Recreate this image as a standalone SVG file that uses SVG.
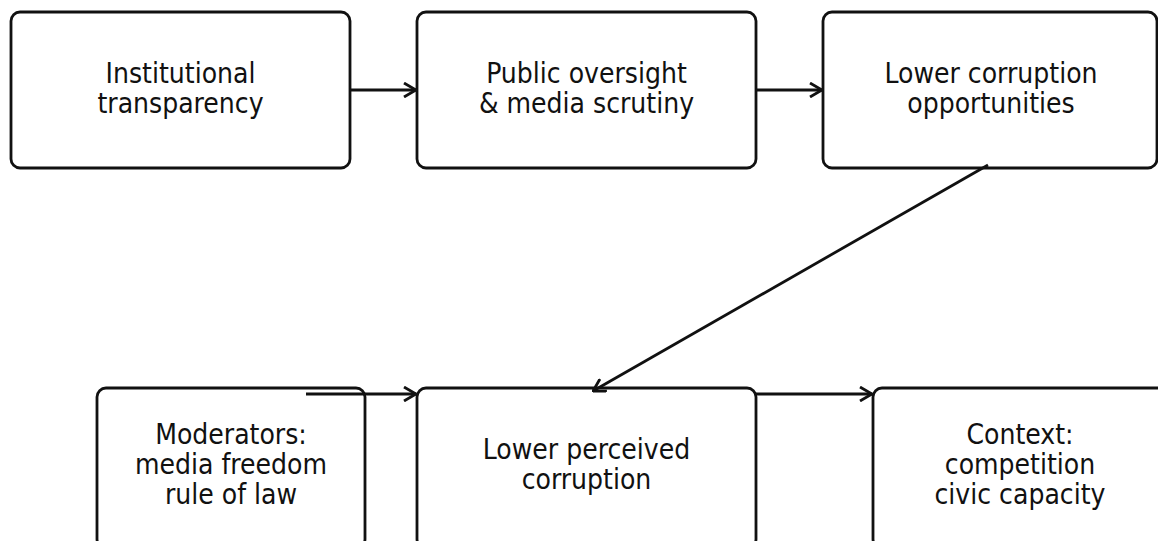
<svg xmlns="http://www.w3.org/2000/svg" width="1158" height="541" viewBox="0 0 1158 541">
<defs>
<style>
.box{fill:#fff;stroke:#111;stroke-width:2.8}
.t{font-family:"DejaVu Sans Condensed","DejaVu Sans",sans-serif;font-stretch:condensed;font-size:28px;fill:#111;text-anchor:middle}
.c{stroke:#111;stroke-width:2.8;fill:none}
</style>
<marker id="ah" viewBox="0 0 14 16" refX="13" refY="8" markerWidth="14" markerHeight="16" markerUnits="userSpaceOnUse" orient="auto">
<path d="M1,1 L13,8 L1,15" fill="none" stroke="#111" stroke-width="2.8"/>
</marker>
</defs>
<rect width="1158" height="541" fill="#fff"/>
<g id="n1"><rect class="box" x="11" y="12" width="339" height="156" rx="9"/>
<text class="t" x="180.5" y="82.5">Institutional</text><text class="t" x="180.5" y="112.5">transparency</text></g>
<g id="n2"><rect class="box" x="417" y="12" width="339" height="156" rx="9"/>
<text class="t" x="586.5" y="82.5">Public oversight</text><text class="t" x="586.5" y="112.5">&amp; media scrutiny</text></g>
<g id="n3"><rect class="box" x="823" y="12" width="334" height="156" rx="9"/>
<text class="t" x="991" y="82.5">Lower corruption</text><text class="t" x="991" y="112.5">opportunities</text></g>
<g id="n4"><rect class="box" x="97" y="388" width="268" height="160" rx="9"/>
<text class="t" x="231" y="444">Moderators:</text><text class="t" x="231" y="474">media freedom</text><text class="t" x="231" y="504">rule of law</text></g>
<g id="n5"><rect class="box" x="417" y="388" width="339" height="160" rx="9"/>
<text class="t" x="586.5" y="458.5">Lower perceived</text><text class="t" x="586.5" y="488.5">corruption</text></g>
<g id="n6"><rect class="box" x="873" y="388" width="300" height="160" rx="9"/>
<text class="t" x="1020" y="444">Context:</text><text class="t" x="1020" y="474">competition</text><text class="t" x="1020" y="504">civic capacity</text></g>
<g id="connectors">
<line class="c" x1="349" y1="90" x2="416" y2="90" marker-end="url(#ah)"/>
<line class="c" x1="755" y1="90" x2="822" y2="90" marker-end="url(#ah)"/>
<line class="c" x1="988" y1="165" x2="593" y2="391" marker-end="url(#ah)"/>
<line class="c" x1="306" y1="394" x2="416" y2="394" marker-end="url(#ah)"/>
<line class="c" x1="756" y1="394" x2="872" y2="394" marker-end="url(#ah)"/>
</g>
</svg>
